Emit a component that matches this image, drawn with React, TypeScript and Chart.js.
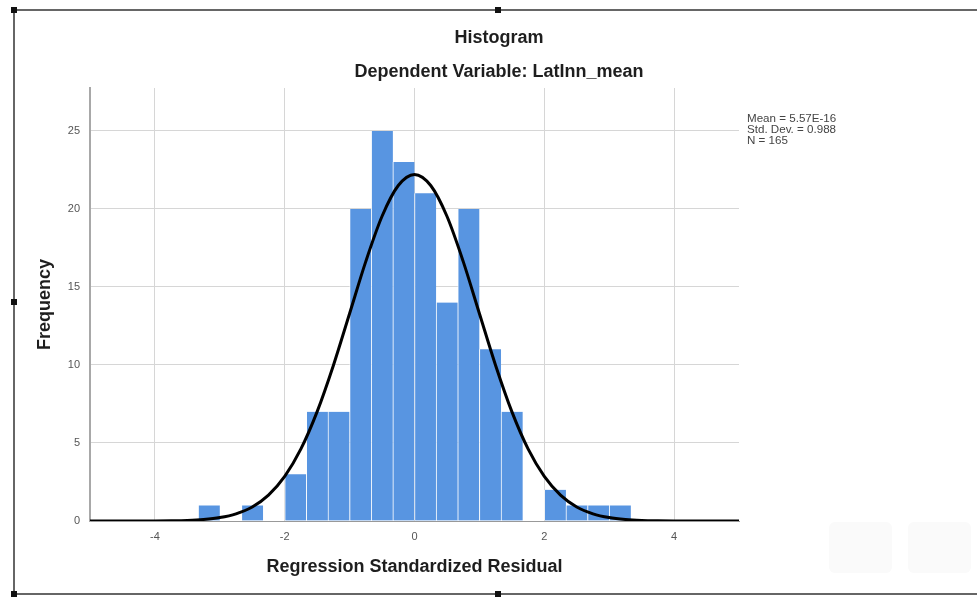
import React, { useEffect, useRef } from "react";
import { Chart, registerables } from "chart.js";

Chart.register(...registerables);

// ---- data ----
const BIN_START = -10 / 3;
const BIN_WIDTH = 1 / 3;
const COUNTS = [1, 0, 1, 0, 3, 7, 7, 20, 25, 23, 21, 14, 20, 11, 7, 0, 2, 1, 1, 1];

const CURVE_X = [
  -5, -4, -3.75, -3.5, -3.25, -3, -2.75, -2.5, -2.25, -2, -1.75, -1.5, -1.25, -1, -0.75, -0.5, -0.25,
  0, 0.25, 0.5, 0.75, 1, 1.25, 1.5, 1.75, 2, 2.25, 2.5, 2.75, 3, 3.25, 3.5, 3.75, 4, 5,
];
const CURVE_Y = [
  0, 0.005, 0.015, 0.04, 0.1, 0.22, 0.46, 0.9, 1.66, 2.86, 4.62, 7.01, 9.97, 13.3, 16.64, 19.53, 21.5,
  22.21, 21.5, 19.53, 16.64, 13.3, 9.97, 7.01, 4.62, 2.86, 1.66, 0.9, 0.46, 0.22, 0.1, 0.04, 0.015, 0.005, 0,
];

const X_TICKS = [-4, -2, 0, 2, 4];
const Y_TICKS = [0, 5, 10, 15, 20, 25];
const X_MIN = -5;
const X_MAX = 5;
const Y_MAX = 27.75;

const TITLE = "Histogram";
const SUBTITLE = "Dependent Variable: LatInn_mean";
const X_TITLE = "Regression Standardized Residual";
const Y_TITLE = "Frequency";
const STATS = ["Mean = 5.57E-16", "Std. Dev. = 0.988", "N = 165"];

const FONT = "'Liberation Sans', Arial, sans-serif";

export default function App() {
  const ref = useRef<HTMLCanvasElement | null>(null);

  useEffect(() => {
    const canvas = ref.current;
    if (!canvas) return;

    const barData = COUNTS.map((c, i) => ({ x: BIN_START + (i + 0.5) * BIN_WIDTH, y: c }));
    const curveData = CURVE_X.map((x, i) => ({ x, y: CURVE_Y[i] }));

    const textPlugin = {
      id: "textPlugin",
      afterDraw(chart: any) {
        const ctx = chart.ctx;
        ctx.save();
        ctx.fillStyle = "#1e1e1e";
        ctx.textAlign = "center";
        ctx.textBaseline = "middle";
        ctx.font = `bold 18px ${FONT}`;
        ctx.fillText(TITLE, 499, 38);
        ctx.fillText(SUBTITLE, 499, 72);
        ctx.textAlign = "left";
        ctx.font = `11.6px ${FONT}`;
        ctx.fillStyle = "#444";
        STATS.forEach((s, i) => ctx.fillText(s, 747, 119 + i * 11));
        ctx.restore();
      },
    };

    const chart = new Chart(canvas, {
      type: "bar",
      data: {
        datasets: [
          {
            type: "line",
            data: curveData,
            borderColor: "#000",
            borderWidth: 3,
            pointRadius: 0,
            cubicInterpolationMode: "monotone",
            fill: false,
            order: 0,
          } as any,
          {
            type: "bar",
            data: barData,
            backgroundColor: "#5895e1",
            borderColor: "rgba(255,255,255,0.75)",
            borderWidth: { left: 1, right: 0, top: 0, bottom: 0 },
            borderSkipped: false,
            barPercentage: 1,
            categoryPercentage: 1,
            order: 1,
          } as any,
        ],
      },
      options: {
        responsive: false,
        animation: false,
        layout: { padding: { left: 14, right: 238, top: 88, bottom: 0 } },
        plugins: {
          legend: { display: false },
          tooltip: { enabled: false },
          title: { display: false },
        },
        scales: {
          x: {
            type: "linear",
            min: X_MIN,
            max: X_MAX,
            offset: false,
            afterBuildTicks: (s: any) => {
              s.ticks = X_TICKS.map((v) => ({ value: v }));
            },
            afterFit: (s: any) => {
              s.height = 78;
            },
            grid: { color: "#d6d6d6", lineWidth: 1, drawTicks: false, offset: false },
            border: { display: true, color: "#999", width: 1 },
            ticks: {
              color: "#555",
              font: { size: 11, family: FONT },
              padding: 9,
              maxRotation: 0,
            },
            title: {
              display: true,
              text: X_TITLE,
              color: "#1e1e1e",
              font: { size: 18, weight: "bold", family: FONT },
              padding: { top: 0, bottom: 21 },
            },
          },
          y: {
            type: "linear",
            min: 0,
            max: Y_MAX,
            afterBuildTicks: (s: any) => {
              s.ticks = Y_TICKS.map((v) => ({ value: v }));
            },
            afterFit: (s: any) => {
              s.width = 76;
            },
            grid: { color: "#d6d6d6", lineWidth: 1, drawTicks: false },
            border: { display: true, color: "#a8a8a8", width: 2 },
            ticks: {
              color: "#555",
              font: { size: 11, family: FONT },
              padding: 10,
            },
            title: {
              display: true,
              text: Y_TITLE,
              color: "#1e1e1e",
              font: { size: 18, weight: "bold", family: FONT },
              padding: { top: 20, bottom: 0 },
            },
          },
        },
      } as any,
      plugins: [textPlugin],
    });

    return () => chart.destroy();
  }, []);

  const sq = (x: number, y: number) => (
    <div
      style={{ position: "absolute", left: x - 3, top: y - 3, width: 6, height: 6, background: "#111" }}
    />
  );

  return (
    <div style={{ position: "absolute", left: 0, top: 0, width: 977, height: 599, background: "#fff", overflow: "hidden" }}>
      <canvas ref={ref} width={977} height={599} style={{ position: "absolute", left: 0, top: 0, width: 977, height: 599 }} />
      <div style={{ position: "absolute", left: 14, top: 9, width: 963, height: 2, background: "#666" }} />
      <div style={{ position: "absolute", left: 14, top: 593, width: 963, height: 2, background: "#666" }} />
      <div style={{ position: "absolute", left: 13, top: 10, width: 2, height: 584, background: "#666" }} />
      {sq(14, 10)}
      {sq(498, 10)}
      {sq(14, 302)}
      {sq(14, 594)}
      {sq(498, 594)}
      <div style={{ position: "absolute", left: 829, top: 522, width: 63, height: 51, borderRadius: 6, background: "#fafafa" }} />
      <div style={{ position: "absolute", left: 908, top: 522, width: 63, height: 51, borderRadius: 6, background: "#fafafa" }} />
    </div>
  );
}
